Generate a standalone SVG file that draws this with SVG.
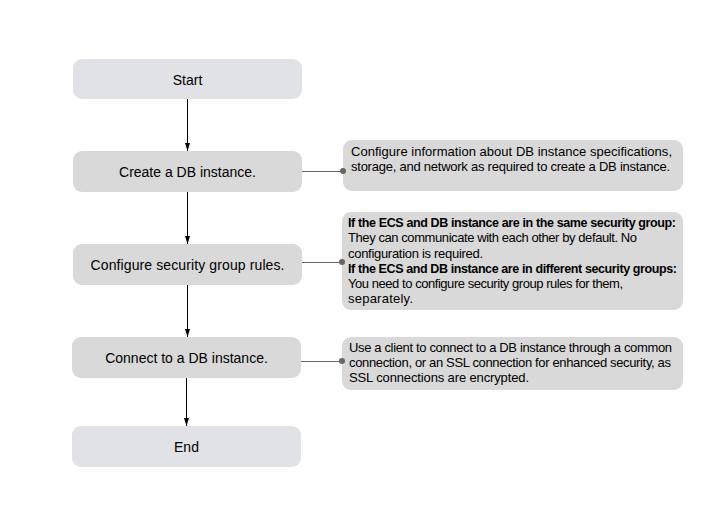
<svg xmlns="http://www.w3.org/2000/svg" width="703" height="524" viewBox="0 0 703 524">
<style>
.term{fill:#e0e2e5}
.step{fill:#d9d9d9}
.note{fill:#d9d9d9}
.nt{font-family:"Liberation Sans",Arial,sans-serif;font-size:14px;fill:#000;text-anchor:middle}
.tx{font-family:"Liberation Sans",Arial,sans-serif;font-size:13px;fill:#000}
.b{font-weight:bold;font-size:12.5px}
.flow{stroke:#000;stroke-width:1;fill:none}
.link{stroke:#666;stroke-width:1;fill:none}
.dot{fill:#666}
</style>
<defs>
<marker id="ah" viewBox="0 0 8 8" refX="8" refY="4" markerWidth="8" markerHeight="8" markerUnits="userSpaceOnUse" orient="auto">
<path d="M0,1.5 L8,4 L0,6.5 Z" fill="#000"/>
</marker>
</defs>
<rect width="703" height="524" fill="#fff"/>
<g id="start"><rect class="term" x="73" y="59" width="229" height="40" rx="9"/><text class="nt" x="187.5" y="84.5">Start</text></g>
<g id="create"><rect class="step" x="73" y="151" width="229" height="41" rx="9"/><text class="nt" x="187.5" y="176.5">Create a DB instance.</text></g>
<g id="config"><rect class="step" x="73" y="244" width="229" height="41" rx="9"/><text class="nt" x="187.5" y="269.5" textLength="194">Configure security group rules.</text></g>
<g id="connect"><rect class="step" x="72" y="337" width="229" height="41" rx="9"/><text class="nt" x="186.5" y="362.5">Connect to a DB instance.</text></g>
<g id="end"><rect class="term" x="72" y="426" width="229" height="41" rx="9"/><text class="nt" x="186.5" y="451.5">End</text></g>
<g id="note1"><rect class="note" x="343" y="140" width="340" height="51" rx="9"/>
<text class="tx" x="351" y="156" textLength="321">Configure information about DB instance specifications,</text>
<text class="tx" x="351" y="171" textLength="319">storage, and network as required to create a DB instance.</text></g>
<g id="note2"><rect class="note" x="342" y="212" width="341" height="98" rx="9"/>
<text class="tx b" x="348" y="227" textLength="328">If the ECS and DB instance are in the same security group:</text>
<text class="tx" x="348" y="242" textLength="289">They can communicate with each other by default. No</text>
<text class="tx" x="348" y="257.5" textLength="135">configuration is required.</text>
<text class="tx b" x="348" y="273" textLength="329">If the ECS and DB instance are in different security groups:</text>
<text class="tx" x="348" y="288" textLength="275">You need to configure security group rules for them,</text>
<text class="tx" x="348" y="303" textLength="65">separately.</text></g>
<g id="note3"><rect class="note" x="342" y="337" width="341" height="53" rx="9"/>
<text class="tx" x="349" y="352" textLength="323">Use a client to connect to a DB instance through a common</text>
<text class="tx" x="349" y="367" textLength="322">connection, or an SSL connection for enhanced security, as</text>
<text class="tx" x="349" y="382" textLength="180">SSL connections are encrypted.</text></g>
<g id="connectors">
<line class="flow" x1="187.5" y1="99" x2="187.5" y2="151" marker-end="url(#ah)"/>
<line class="flow" x1="187.5" y1="192" x2="187.5" y2="244" marker-end="url(#ah)"/>
<line class="flow" x1="187.5" y1="285" x2="187.5" y2="337" marker-end="url(#ah)"/>
<line class="flow" x1="186.5" y1="378" x2="186.5" y2="426" marker-end="url(#ah)"/>
<line class="link" x1="302" y1="171.5" x2="343" y2="171.5"/><circle class="dot" cx="343" cy="171" r="3"/>
<line class="link" x1="302" y1="262.5" x2="342" y2="262.5"/><circle class="dot" cx="342" cy="262" r="3"/>
<line class="link" x1="301" y1="361.5" x2="342" y2="361.5"/><circle class="dot" cx="342" cy="361" r="3"/>
</g>
</svg>
